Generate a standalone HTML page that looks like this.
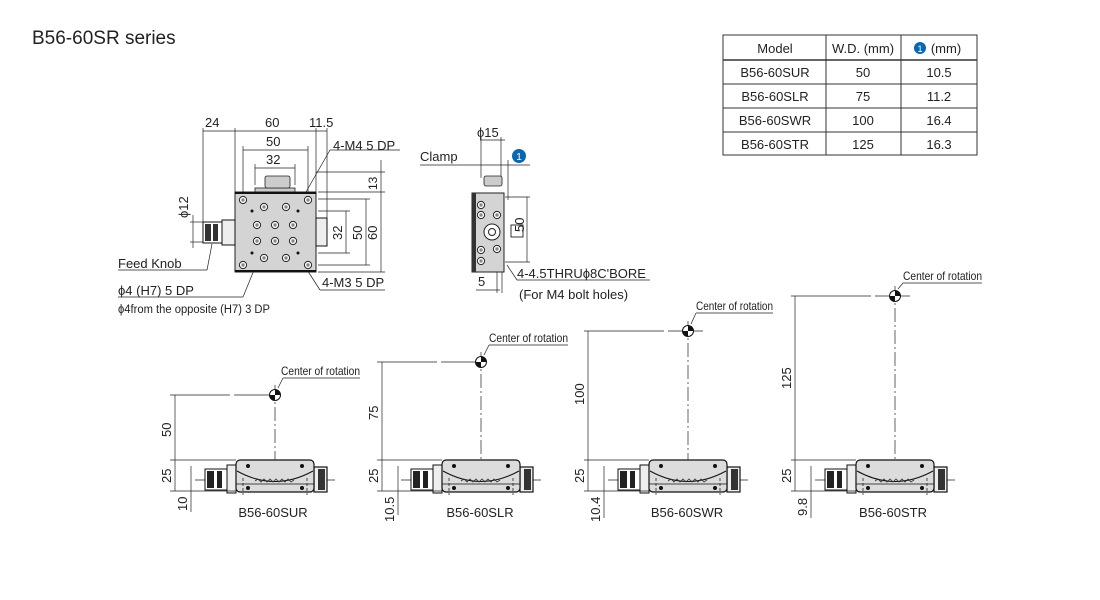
<!DOCTYPE html>
<html><head><meta charset="utf-8"><style>
html,body{margin:0;padding:0;background:#fff}
svg{display:block}
text{font-family:"Liberation Sans",sans-serif;fill:#222}
.n{font-size:13px}
.s{font-size:12px}
.c{font-size:12px;transform-box:fill-box}
</style></head><body>
<svg width="1100" height="600" viewBox="0 0 1100 600" xmlns="http://www.w3.org/2000/svg">
<defs>
<g id="stage">
  <line x1="-80" y1="480" x2="60" y2="480" stroke="#222" stroke-width="0.8" stroke-dasharray="14,3,2,3"/>
  <rect x="-70" y="469" width="24" height="21" fill="#fff" stroke="#111" stroke-width="1"/>
  <rect x="-68" y="471" width="7" height="17" fill="#222"/>
  <rect x="-58" y="471" width="5" height="17" fill="#222"/>
  <rect x="-48" y="465" width="9" height="28" fill="#eee" stroke="#111" stroke-width="1"/>
  <rect x="39" y="467" width="13" height="25" fill="#eee" stroke="#111" stroke-width="1.2"/>
  <rect x="43" y="469" width="7" height="21" fill="#333"/>
  <rect x="-39" y="460" width="78" height="32" rx="4" fill="#dcdcdc" stroke="#111" stroke-width="1.2"/>
  <path d="M-38 471 Q0 492 38 471" fill="none" stroke="#111" stroke-width="1"/>
  <path d="M-20 481 l3 -2 l3 3 l3 -3 l3 3 l3 -3 l3 3 l3 -3 l3 3 l3 -3 l3 3 l3 -3 l3 3 l3 -2" fill="none" stroke="#333" stroke-width="0.8"/>
  <line x1="-39" y1="484" x2="39" y2="484" stroke="#111" stroke-width="0.8"/>
  <circle cx="-27" cy="466" r="2" fill="#111"/><circle cx="27" cy="466" r="2" fill="#111"/>
  <circle cx="-27" cy="488" r="2" fill="#111"/><circle cx="27" cy="488" r="2" fill="#111"/>
  <line x1="-32" y1="478" x2="-32" y2="495" stroke="#111" stroke-width="0.7" stroke-dasharray="3,2"/>
  <line x1="32" y1="478" x2="32" y2="495" stroke="#111" stroke-width="0.7" stroke-dasharray="3,2"/>
</g>
<g id="cor">
  <circle cx="0" cy="0" r="5.5" fill="#fff" stroke="#111" stroke-width="1"/>
  <path d="M0 0 L5.5 0 A5.5 5.5 0 0 0 0 -5.5 Z M0 0 L-5.5 0 A5.5 5.5 0 0 0 0 5.5 Z" fill="#111"/>
</g>
<g id="hole"><circle r="3.6" fill="#fff" stroke="#222" stroke-width="1"/><circle r="1.7" fill="#888"/></g>
</defs>

<text x="32" y="44" style="font-size:19px">B56-60SR series</text>

<!-- table -->
<g stroke="#333" stroke-width="1" fill="none">
<rect x="723" y="35" width="254" height="120"/>
<line x1="723" y1="60" x2="977" y2="60" stroke-width="1.6"/>
<line x1="723" y1="84" x2="977" y2="84"/>
<line x1="723" y1="108" x2="977" y2="108"/>
<line x1="723" y1="132" x2="977" y2="132"/>
<line x1="826" y1="35" x2="826" y2="155"/>
<line x1="901" y1="35" x2="901" y2="155"/>
</g>
<g class="n" text-anchor="middle">
<text x="775" y="53">Model</text><text x="863" y="53">W.D. (mm)</text><text x="946" y="53">(mm)</text>
<text x="775" y="77">B56-60SUR</text><text x="863" y="77">50</text><text x="939" y="77">10.5</text>
<text x="775" y="101">B56-60SLR</text><text x="863" y="101">75</text><text x="939" y="101">11.2</text>
<text x="775" y="125">B56-60SWR</text><text x="863" y="125">100</text><text x="939" y="125">16.4</text>
<text x="775" y="149">B56-60STR</text><text x="863" y="149">125</text><text x="939" y="149">16.3</text>
</g>
<circle cx="920" cy="48" r="6" fill="#0a68b0"/><text x="920" y="52" text-anchor="middle" style="font-size:9px;fill:#fff">1</text>

<!-- top view -->
<g stroke="#222" stroke-width="0.7" fill="none">
<line x1="203" y1="128" x2="203" y2="232"/><line x1="235" y1="128" x2="235" y2="192"/>
<line x1="316" y1="128" x2="316" y2="192"/><line x1="327" y1="128" x2="327" y2="222"/>
<line x1="203" y1="131" x2="327" y2="131"/>
<line x1="243" y1="150" x2="308" y2="150"/><line x1="243" y1="146" x2="243" y2="195"/><line x1="308" y1="146" x2="308" y2="195"/>
<line x1="255" y1="168" x2="295" y2="168"/><line x1="255" y1="164" x2="255" y2="185"/><line x1="295" y1="164" x2="295" y2="185"/>
<line x1="318" y1="192" x2="385" y2="192"/><line x1="316" y1="172" x2="385" y2="172"/>
<line x1="381" y1="160" x2="381" y2="272"/><line x1="318" y1="272" x2="385" y2="272"/>
<line x1="366" y1="199" x2="366" y2="265"/><line x1="318" y1="199" x2="370" y2="199"/><line x1="318" y1="265" x2="370" y2="265"/>
<line x1="346" y1="211" x2="346" y2="253"/><line x1="318" y1="211" x2="350" y2="211"/><line x1="318" y1="253" x2="350" y2="253"/>
<line x1="190" y1="222" x2="203" y2="222"/><line x1="190" y1="242" x2="203" y2="242"/><line x1="193" y1="215" x2="193" y2="248"/>
<line x1="118" y1="270" x2="207" y2="270"/><line x1="207" y1="270" x2="212" y2="244"/>
<line x1="118" y1="297" x2="243" y2="297"/><line x1="243" y1="297" x2="268" y2="236"/>
<line x1="330" y1="150" x2="400" y2="150"/><line x1="330" y1="150" x2="306" y2="192"/>
<line x1="320" y1="290" x2="385" y2="290"/><line x1="320" y1="290" x2="302" y2="262"/>
</g>
<rect x="255" y="188" width="40" height="5" fill="#ccc" stroke="#222" stroke-width="0.8"/>
<rect x="265" y="176" width="25" height="12" rx="2" fill="#ccc" stroke="#222" stroke-width="0.8"/>
<rect x="235" y="192" width="81" height="80" fill="#d4d4d4" stroke="#222" stroke-width="1"/>
<line x1="235" y1="193" x2="316" y2="193" stroke="#111" stroke-width="2"/><line x1="235" y1="271" x2="316" y2="271" stroke="#111" stroke-width="2"/>
<rect x="203" y="222" width="19" height="21" fill="#fff" stroke="#111"/><rect x="205" y="224" width="6" height="17" fill="#333"/><rect x="213" y="224" width="5" height="17" fill="#333"/>
<rect x="222" y="220" width="13" height="25" fill="#eee" stroke="#111"/>
<rect x="316" y="218" width="11" height="28" fill="#eee" stroke="#111"/>
<use href="#hole" x="243" y="200"/><use href="#hole" x="308" y="200"/><use href="#hole" x="243" y="265"/><use href="#hole" x="308" y="265"/>
<use href="#hole" x="264" y="207"/><use href="#hole" x="286" y="207"/><use href="#hole" x="264" y="258"/><use href="#hole" x="286" y="258"/>
<use href="#hole" x="257" y="225"/><use href="#hole" x="275" y="225"/><use href="#hole" x="293" y="225"/>
<use href="#hole" x="257" y="241"/><use href="#hole" x="275" y="241"/><use href="#hole" x="293" y="241"/>
<g fill="#111"><circle cx="252" cy="211" r="1.5"/><circle cx="298" cy="211" r="1.5"/><circle cx="252" cy="253" r="1.5"/><circle cx="298" cy="253" r="1.5"/></g>
<g class="n">
<text x="205" y="127">24</text><text x="265" y="127">60</text><text x="309" y="127">11.5</text>
<text x="266" y="146">50</text><text x="266" y="164">32</text>
<text x="333" y="150">4-M4 5 DP</text>
<text x="118" y="268">Feed Knob</text>
<text x="118" y="295">ϕ4 (H7)  5 DP</text>
<text x="322" y="287">4-M3 5 DP</text>
<text x="188" y="218" transform="rotate(-90 188 218)">ϕ12</text>
<text x="377" y="190" transform="rotate(-90 377 190)" class="s">13</text>
<text x="377" y="240" transform="rotate(-90 377 240)">60</text>
<text x="362" y="240" transform="rotate(-90 362 240)">50</text>
<text x="342" y="240" transform="rotate(-90 342 240)">32</text>
</g>
<text x="118" y="313" style="font-size:11.5px" textLength="152" lengthAdjust="spacingAndGlyphs">ϕ4from the opposite (H7) 3 DP</text>

<!-- side end view -->
<g stroke="#222" stroke-width="0.7" fill="none">
<line x1="480" y1="140" x2="505" y2="140"/><line x1="481" y1="137" x2="481" y2="178"/><line x1="501" y1="137" x2="501" y2="178"/>
<line x1="420" y1="165" x2="530" y2="165"/><line x1="508" y1="160" x2="508" y2="200"/>
<line x1="505" y1="197" x2="530" y2="197"/><line x1="505" y1="262" x2="530" y2="262"/><line x1="527" y1="197" x2="527" y2="262"/>
<line x1="476" y1="290" x2="500" y2="290"/><line x1="497" y1="272" x2="497" y2="293"/><line x1="502" y1="272" x2="502" y2="293"/>
<line x1="517" y1="280" x2="650" y2="280"/><line x1="517" y1="280" x2="507" y2="265"/>
</g>
<rect x="484" y="176" width="18" height="10" rx="2" fill="#ccc" stroke="#222" stroke-width="0.8"/>
<rect x="472" y="193" width="32" height="79" fill="#d4d4d4" stroke="#222" stroke-width="1"/>
<rect x="472" y="193" width="4" height="79" fill="#333"/>
<circle cx="492" cy="232" r="8" fill="#fff" stroke="#222"/><circle cx="492" cy="232" r="3.5" fill="#fff" stroke="#222"/>
<use href="#hole" x="497" y="215"/><use href="#hole" x="497" y="249"/>
<use href="#hole" x="481" y="205"/><use href="#hole" x="481" y="215"/><use href="#hole" x="481" y="250"/><use href="#hole" x="481" y="261"/>
<rect x="511" y="225" width="12" height="12" fill="#fff" stroke="#222" stroke-width="0.9"/>
<circle cx="519" cy="156" r="7" fill="#0a68b0"/><text x="519" y="160" text-anchor="middle" style="font-size:10px;fill:#fff">1</text>
<g class="n">
<text x="477" y="137">ϕ15</text><text x="420" y="161">Clamp</text>
<text x="524" y="232" transform="rotate(-90 524 232)">50</text>
<text x="478" y="286">5</text>
<text x="517" y="278">4-4.5THRUϕ8C'BORE</text>
<text x="519" y="299">(For M4 bolt holes)</text>
</g>

<!-- four side views -->
<g>
<use href="#stage" x="275"/><use href="#stage" x="481"/><use href="#stage" x="688"/><use href="#stage" x="895"/>
</g>
<g stroke="#222" stroke-width="0.7" fill="none">
<!-- SUR -->
<line x1="170" y1="395" x2="290" y2="395" stroke-dasharray="60,4,40"/><line x1="275" y1="385" x2="275" y2="460" stroke-dasharray="14,3,2,3"/>
<line x1="170" y1="460" x2="236" y2="460"/><line x1="170" y1="491" x2="236" y2="491"/>
<line x1="175" y1="395" x2="175" y2="491"/><line x1="191" y1="466" x2="191" y2="512"/>
<line x1="278" y1="388" x2="283" y2="378"/><line x1="283" y1="378" x2="360" y2="378"/>
<!-- SLR -->
<line x1="377" y1="362" x2="496" y2="362" stroke-dasharray="60,4,40"/><line x1="481" y1="352" x2="481" y2="460" stroke-dasharray="14,3,2,3"/>
<line x1="377" y1="460" x2="442" y2="460"/><line x1="377" y1="491" x2="442" y2="491"/>
<line x1="382" y1="362" x2="382" y2="491"/><line x1="398" y1="466" x2="398" y2="515"/>
<line x1="484" y1="355" x2="489" y2="345"/><line x1="489" y1="345" x2="568" y2="345"/>
<!-- SWR -->
<line x1="584" y1="331" x2="703" y2="331" stroke-dasharray="80,4,40"/><line x1="688" y1="321" x2="688" y2="460" stroke-dasharray="14,3,2,3"/>
<line x1="584" y1="460" x2="649" y2="460"/><line x1="584" y1="491" x2="649" y2="491"/>
<line x1="588" y1="331" x2="588" y2="491"/><line x1="604" y1="466" x2="604" y2="518"/>
<line x1="691" y1="324" x2="696" y2="313"/><line x1="696" y1="313" x2="773" y2="313"/>
<!-- STR -->
<line x1="791" y1="296" x2="910" y2="296" stroke-dasharray="80,4,40"/><line x1="895" y1="286" x2="895" y2="460" stroke-dasharray="14,3,2,3"/>
<line x1="791" y1="460" x2="856" y2="460"/><line x1="791" y1="491" x2="856" y2="491"/>
<line x1="795" y1="296" x2="795" y2="491"/><line x1="811" y1="466" x2="811" y2="518"/>
<line x1="898" y1="289" x2="903" y2="283"/><line x1="903" y1="283" x2="982" y2="283"/>
</g>
<use href="#cor" x="275" y="395"/><use href="#cor" x="481" y="362"/><use href="#cor" x="688" y="331"/><use href="#cor" x="895" y="296"/>
<g style="font-size:12px" textLength="80">
<text x="281" y="375" textLength="79" lengthAdjust="spacingAndGlyphs">Center of rotation</text>
<text x="489" y="342" textLength="79" lengthAdjust="spacingAndGlyphs">Center of rotation</text>
<text x="696" y="310" textLength="77" lengthAdjust="spacingAndGlyphs">Center of rotation</text>
<text x="903" y="280" textLength="79" lengthAdjust="spacingAndGlyphs">Center of rotation</text>
</g>
<g class="n">
<text x="171" y="437" transform="rotate(-90 171 437)">50</text>
<text x="171" y="483" transform="rotate(-90 171 483)">25</text>
<text x="187" y="511" transform="rotate(-90 187 511)">10</text>
<text x="378" y="420" transform="rotate(-90 378 420)">75</text>
<text x="378" y="483" transform="rotate(-90 378 483)">25</text>
<text x="394" y="522" transform="rotate(-90 394 522)">10.5</text>
<text x="584" y="405" transform="rotate(-90 584 405)">100</text>
<text x="584" y="483" transform="rotate(-90 584 483)">25</text>
<text x="600" y="522" transform="rotate(-90 600 522)">10.4</text>
<text x="791" y="389" transform="rotate(-90 791 389)">125</text>
<text x="791" y="483" transform="rotate(-90 791 483)">25</text>
<text x="807" y="516" transform="rotate(-90 807 516)">9.8</text>
<text x="273" y="517" text-anchor="middle">B56-60SUR</text>
<text x="480" y="517" text-anchor="middle">B56-60SLR</text>
<text x="687" y="517" text-anchor="middle">B56-60SWR</text>
<text x="893" y="517" text-anchor="middle">B56-60STR</text>
</g>
</svg>
</body></html>
